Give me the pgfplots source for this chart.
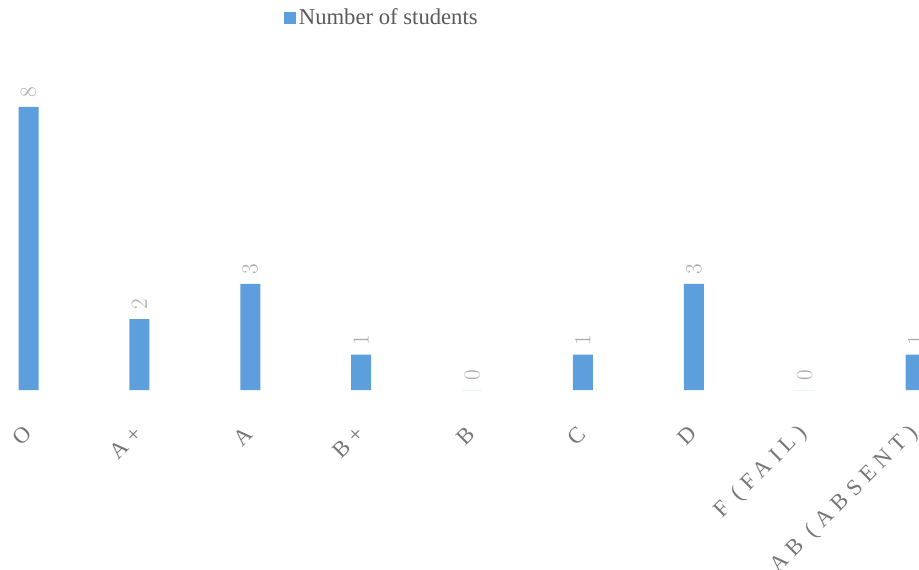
\documentclass[border=0pt]{standalone}
\usepackage{pgfplots}
\pgfplotsset{compat=1.18}
\usepackage{fontspec}
\setmainfont{Liberation Serif}
\newfontfamily\spaced[LetterSpace=28]{Liberation Serif}
\definecolor{barblue}{RGB}{93,158,220}
\definecolor{ticktext}{RGB}{118,118,118}
\definecolor{valtext}{RGB}{170,170,170}
\definecolor{legtext}{RGB}{90,90,90}

\begin{document}
\begin{tikzpicture}
\begin{axis}[
    scale only axis,
    width=689.25pt,
    height=292.5pt,
    xmin=-0.257, xmax=8.030,
    ymin=0, ymax=11.02,
    ybar,
    bar width=15pt,
    axis line style={draw=none},
    tick style={draw=none},
    ytick=\empty,
    xtick=data,
    xticklabels={O, A+, A, B+, B, C, D, F (FAIL), AB (ABSENT)},
    xticklabel style={font=\spaced\fontsize{17}{19}\selectfont, text=ticktext,
        yshift=-25pt, rotate=45, anchor=east, inner sep=1pt},
    nodes near coords,
    nodes near coords style={font=\fontsize{16}{18}\selectfont, text=valtext,
        yshift=7pt, rotate=90, anchor=west, inner sep=0pt},
    legend style={draw=none, fill=none, at={(rel axis cs:0.416,0.954)}, anchor=center,
        font=\fontsize{17}{19}\selectfont, text=legtext},
    legend image code/.code={\fill[#1, draw=none] (0pt,-4.5pt) rectangle (9pt,4.5pt);},
]
\addplot[fill=barblue, draw=none] coordinates {(0,8) (1,2) (2,3) (3,1) (4,0) (5,1) (6,3) (7,0) (8,1)};
\addlegendentry{Number of students}
\end{axis}
\pgfresetboundingbox
\useasboundingbox (current axis.south west) ++(0,-134.25pt) rectangle (current axis.north east);
\end{tikzpicture}
\end{document}
